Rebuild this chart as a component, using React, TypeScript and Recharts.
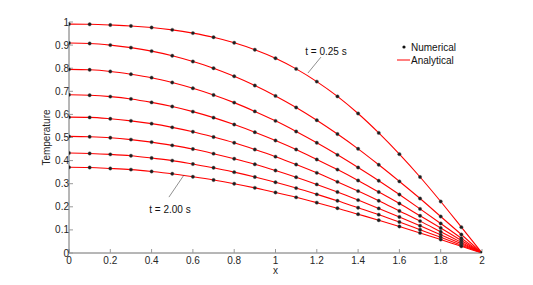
import React from 'react';
import {
  LineChart,
  Line,
  XAxis,
  YAxis,
  Legend,
  ReferenceLine,
  ReferenceDot,
} from 'recharts';

const xValues = [0, 0.1, 0.2, 0.3, 0.4, 0.5, 0.6, 0.7, 0.8, 0.9, 1.0, 1.1, 1.2, 1.3, 1.4, 1.5, 1.6, 1.7, 1.8, 1.9, 2.0];

const t025 = [0.991, 0.990, 0.987, 0.983, 0.976, 0.966, 0.952, 0.934, 0.910, 0.880, 0.843, 0.797, 0.742, 0.678, 0.604, 0.520, 0.428, 0.329, 0.223, 0.112, 0];
const t050 = [0.909, 0.907, 0.900, 0.889, 0.874, 0.854, 0.829, 0.800, 0.765, 0.725, 0.680, 0.630, 0.575, 0.515, 0.451, 0.382, 0.310, 0.236, 0.158, 0.080, 0];
const t075 = [0.795, 0.793, 0.786, 0.774, 0.759, 0.738, 0.713, 0.684, 0.651, 0.613, 0.572, 0.526, 0.477, 0.425, 0.370, 0.313, 0.253, 0.191, 0.128, 0.064, 0];
const t100 = [0.685, 0.683, 0.677, 0.667, 0.652, 0.634, 0.612, 0.586, 0.556, 0.523, 0.487, 0.448, 0.405, 0.361, 0.314, 0.264, 0.214, 0.161, 0.108, 0.054, 0];
const t125 = [0.588, 0.587, 0.581, 0.572, 0.560, 0.544, 0.525, 0.502, 0.477, 0.448, 0.417, 0.383, 0.347, 0.308, 0.268, 0.226, 0.182, 0.138, 0.092, 0.046, 0];
const t150 = [0.505, 0.503, 0.499, 0.491, 0.480, 0.466, 0.450, 0.430, 0.408, 0.384, 0.357, 0.328, 0.297, 0.264, 0.229, 0.193, 0.156, 0.118, 0.079, 0.040, 0];
const t175 = [0.433, 0.431, 0.427, 0.421, 0.411, 0.400, 0.385, 0.369, 0.350, 0.329, 0.306, 0.281, 0.254, 0.226, 0.196, 0.166, 0.134, 0.101, 0.068, 0.034, 0];
const t200 = [0.371, 0.370, 0.366, 0.361, 0.353, 0.343, 0.330, 0.316, 0.300, 0.282, 0.262, 0.241, 0.218, 0.194, 0.168, 0.142, 0.115, 0.087, 0.058, 0.029, 0];

const seriesKeys = ['t025', 't050', 't075', 't100', 't125', 't150', 't175', 't200'];
const seriesValues = [t025, t050, t075, t100, t125, t150, t175, t200];

const xTicks = [0, 0.2, 0.4, 0.6, 0.8, 1, 1.2, 1.4, 1.6, 1.8, 2];
const yTicks = [0, 0.1, 0.2, 0.3, 0.4, 0.5, 0.6, 0.7, 0.8, 0.9, 1];

const legendNumerical = 'Numerical';
const legendAnalytical = 'Analytical';
const xLabel = 'x';
const yLabel = 'Temperature';
const annotationTop = 't = 0.25 s';
const annotationBottom = 't = 2.00 s';

const data = xValues.map((x, i) => {
  const row: Record<string, number> = { x };
  seriesKeys.forEach((k, j) => {
    row[k] = seriesValues[j][i];
  });
  return row;
});

const FONT = '"Liberation Sans", Arial, Helvetica, sans-serif';
const TICK_STYLE = { fontSize: 10, fill: '#262626', fontFamily: FONT };
const AXIS_COLOR = '#6f6f6f';
const TICK_COLOR = '#9a9a9a';

const fmt = (v: number) => String(Math.round(v * 10) / 10);

const renderLegend = () => (
  <svg width={100} height={32} style={{ display: 'block' }}>
    <circle cx={14} cy={9} r={1.6} fill="#111" />
    <text x={21} y={9} dy="0.35em" fontSize={10} fontFamily={FONT} fill="#111">
      {legendNumerical}
    </text>
    <line x1={7} x2={20} y1={22} y2={22} stroke="#ff0000" strokeWidth={1} />
    <text x={21} y={22} dy="0.35em" fontSize={10} fontFamily={FONT} fill="#111">
      {legendAnalytical}
    </text>
  </svg>
);

const dotRenderer = (props: any) => {
  const { cx, cy, index } = props;
  if (cx == null || cy == null) return <g key={index} />;
  return <circle key={index} cx={cx} cy={cy} r={1.7} fill="#1c1c1c" stroke="#555" strokeWidth={0.4} />;
};

export default function App() {
  return (
    <div style={{ position: 'absolute', left: 0, top: 0, width: 533, height: 285, background: '#ffffff' }}>
      <LineChart
        width={533}
        height={285}
        data={data}
        margin={{ top: 22, right: 51, bottom: 0, left: 0 }}
      >
        <XAxis
          dataKey="x"
          type="number"
          domain={[0, 2]}
          ticks={xTicks}
          tickFormatter={fmt}
          height={32}
          tickSize={-4}
          tickMargin={8}
          tick={TICK_STYLE}
          stroke={AXIS_COLOR}
          tickLine={{ stroke: TICK_COLOR }}
          axisLine={{ stroke: AXIS_COLOR }}
          allowDataOverflow
          label={{ value: xLabel, position: 'insideTop', offset: 14, style: { fontSize: 10, fill: '#262626', fontFamily: FONT } }}
        />
        <XAxis
          xAxisId="top"
          dataKey="x"
          orientation="top"
          type="number"
          domain={[0, 2]}
          ticks={xTicks}
          tickFormatter={() => ''}
          height={0}
          tickSize={-4}
          tick={TICK_STYLE}
          tickLine={{ stroke: TICK_COLOR }}
          axisLine={{ stroke: AXIS_COLOR }}
        />
        <YAxis
          type="number"
          domain={[0, 1]}
          ticks={yTicks}
          tickFormatter={fmt}
          width={69}
          tickSize={-4}
          tickMargin={4}
          tick={TICK_STYLE}
          tickLine={{ stroke: TICK_COLOR }}
          axisLine={{ stroke: AXIS_COLOR }}
          allowDataOverflow
          label={{ value: yLabel, angle: -90, position: 'insideLeft', offset: 46, style: { fontSize: 10, fill: '#262626', fontFamily: FONT, textAnchor: 'middle' } }}
        />
        <YAxis
          yAxisId="right"
          orientation="right"
          type="number"
          domain={[0, 1]}
          ticks={yTicks}
          tickFormatter={() => ''}
          width={0}
          tickSize={-4}
          tick={TICK_STYLE}
          tickLine={{ stroke: TICK_COLOR }}
          axisLine={{ stroke: AXIS_COLOR }}
        />
        {seriesKeys.map((k) => (
          <Line
            key={'a-' + k}
            dataKey={k}
            type="monotone"
            stroke="#ff0000"
            strokeWidth={1.1}
            dot={false}
            activeDot={false}
            isAnimationActive={false}
            legendType="none"
          />
        ))}
        {seriesKeys.map((k) => (
          <Line
            key={'n-' + k}
            dataKey={k}
            stroke="none"
            dot={dotRenderer}
            activeDot={false}
            isAnimationActive={false}
            legendType="none"
          />
        ))}
        <ReferenceLine
          segment={[{ x: 1.22, y: 0.848 }, { x: 1.157, y: 0.779 }]}
          stroke="#444"
          strokeWidth={0.6}
        />
        <ReferenceLine
          segment={[{ x: 0.484, y: 0.242 }, { x: 0.557, y: 0.338 }]}
          stroke="#444"
          strokeWidth={0.6}
        />
        <ReferenceDot
          x={1.2446}
          y={0.8745}
          r={0}
          fill="none"
          stroke="none"
          label={{ value: annotationTop, position: 'center', style: { fontSize: 10, fill: '#111', fontFamily: FONT } }}
        />
        <ReferenceDot
          x={0.489}
          y={0.1905}
          r={0}
          fill="none"
          stroke="none"
          label={{ value: annotationBottom, position: 'center', style: { fontSize: 10, fill: '#111', fontFamily: FONT } }}
        />
        <Legend
          layout="vertical"
          align="center"
          verticalAlign="middle"
          content={renderLegend}
          wrapperStyle={{ position: 'absolute', left: 390, top: 38, width: 100, height: 32 }}
        />
      </LineChart>
    </div>
  );
}
